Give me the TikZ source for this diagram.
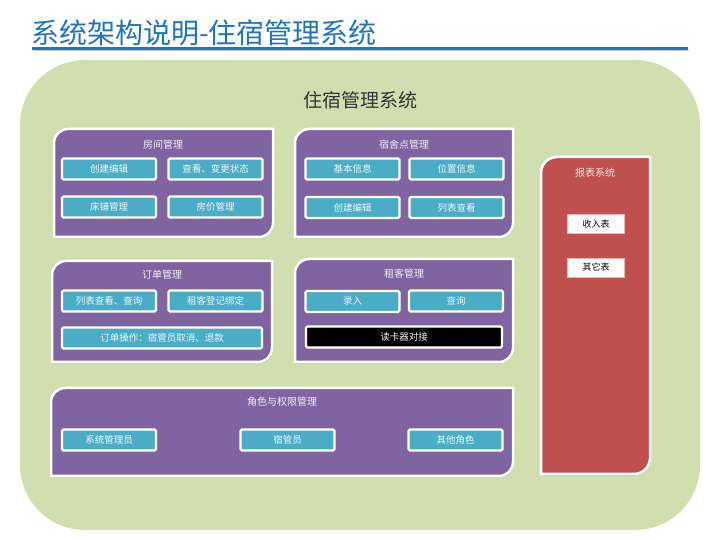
\documentclass[tikz,border=0pt]{standalone}
\usepackage{fontspec}
\setmainfont{Noto Sans CJK SC}
\usepackage{xcolor}
\definecolor{bgcolor}{RGB}{209, 222, 176}
\definecolor{panelcolor}{RGB}{128, 100, 162}
\definecolor{itemcolor}{RGB}{75, 172, 198}
\definecolor{reportcolor}{RGB}{192, 80, 77}
\definecolor{headcolor}{RGB}{31, 117, 190}
\usetikzlibrary{shadows}

\begin{document}
\begin{tikzpicture}[x=1pt, y=1pt,
    panel/.style={fill=panelcolor, draw=white, line width=2.5pt, drop shadow={opacity=0.3, shadow xshift=1pt, shadow yshift=-1.5pt}},
    report/.style={fill=reportcolor, draw=white, line width=2.5pt, drop shadow={opacity=0.3, shadow xshift=1pt, shadow yshift=-1.5pt}},
    ptitle/.style={text=white!90!panelcolor, font=\fontsize{10}{12}\selectfont},
    item/.style={rectangle, rounded corners=1.5pt, fill=itemcolor, draw=white, line width=2.2pt, minimum width=94pt, minimum height=21pt, inner sep=0pt, text=white!92!itemcolor, font=\fontsize{9.5}{11}\selectfont, drop shadow={opacity=0.35, shadow xshift=1pt, shadow yshift=-1pt}},
    sheet/.style={rectangle, fill=white, draw=reportcolor!40, line width=0.8pt, minimum width=57pt, minimum height=19pt, inner sep=0pt, font=\fontsize{9}{11}\selectfont}
]
    \useasboundingbox (0,0) rectangle (720,540);

    % Heading
    \node[anchor=west, inner sep=0pt, text=headcolor, font=\fontsize{28}{30}\selectfont] (head) at (31,507) {系统架构说明-住宿管理系统};
    \fill[black!20] (33,489) rectangle (689,490);
    \draw[headcolor, line width=3pt] (32,491.5) -- (688,491.5);

    % Background
    \fill[bgcolor, rounded corners=65pt] (20,10) rectangle (700,480);
    \node[text=black!80, font=\fontsize{19}{22}\selectfont] (sys) at (360,440) {住宿管理系统};

    % Panels
    \foreach \xa/\ya/\xb/\yb in {54/411/273/303, 295/411/513/303, 52/279/272/178, 295/281/513/178, 51/152/513/64}
        \path[panel] (\xa,\yb) -- (\xa,\ya-14) arc[start angle=180, end angle=90, radius=14pt]
            -- (\xb,\ya) -- (\xb,\yb+14) arc[start angle=0, end angle=-90, radius=14pt] -- cycle;
    \path[report] (541,66) -- (541,367) arc[start angle=180, end angle=90, radius=16pt]
        -- (650,383) -- (650,82) arc[start angle=0, end angle=-90, radius=16pt] -- cycle;

    % Rooms
    \node[ptitle] (room) at (163,395) {房间管理};
    \node[item] (room1) at (109,371) {创建编辑};
    \node[item] (room2) at (215.5,371) {查看、变更状态};
    \node[item] (room3) at (109,333) {床铺管理};
    \node[item] (room4) at (215.5,333) {房价管理};

    % Dormitories
    \node[ptitle] (dorm) at (404,395) {宿舍点管理};
    \node[item] (dorm1) at (352.5,371) {基本信息};
    \node[item] (dorm2) at (456.5,371) {位置信息};
    \node[item] (dorm3) at (352.5,332.5) {创建编辑};
    \node[item] (dorm4) at (456.5,332.5) {列表查看};

    % Orders
    \node[ptitle] (order) at (162,265) {订单管理};
    \node[item] (order1) at (109,239) {列表查看、查询};
    \node[item] (order2) at (215.5,239) {租客登记绑定};
    \node[item, minimum width=200pt] (order3) at (162,202) {订单操作：宿管员取消、退款};

    % Tenants
    \node[ptitle] (tenant) at (404,266) {租客管理};
    \node[item] (tenant1) at (352.5,238.5) {录入};
    \node[item] (tenant2) at (456,239) {查询};
    \node[item, fill=black, minimum width=196pt] (tenant3) at (404,203) {读卡器对接};

    % Roles
    \node[ptitle] (role) at (282,138) {角色与权限管理};
    \node[item] (role1) at (109,100) {系统管理员};
    \node[item] (role2) at (287.5,100) {宿管员};
    \node[item] (role3) at (455.5,100) {其他角色};

    % Reports
    \node[ptitle, text=white!85!reportcolor] (rep) at (595,367) {报表系统};
    \node[sheet] (rep1) at (596,316) {收入表};
    \node[sheet] (rep2) at (596,272.5) {其它表};
\end{tikzpicture}
\end{document}
